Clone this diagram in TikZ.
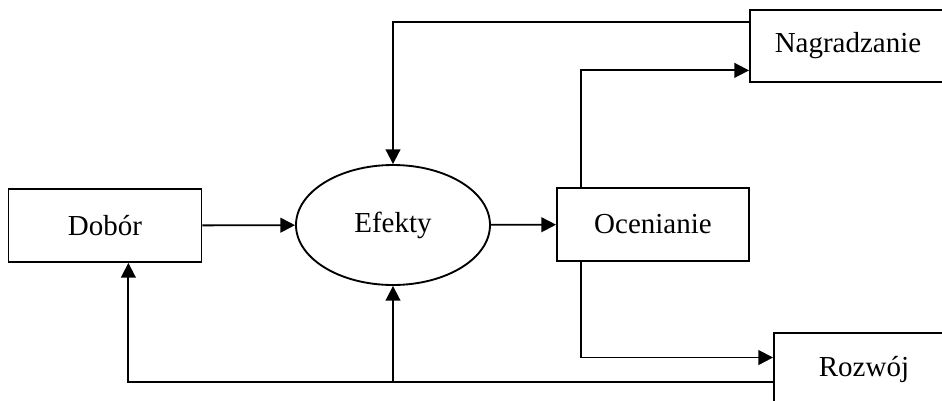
\documentclass[tikz,border=0pt]{standalone}
\usepackage{fontspec}
\setmainfont{Liberation Serif}
\usetikzlibrary{arrows.meta,shapes.geometric,calc}

\tikzset{every picture/.style={line width=1.4pt}}
\tikzset{
  box/.style={draw, rectangle, inner sep=0pt, minimum height=54.75pt, font=\fontsize{21.75}{26}\selectfont},
  oval/.style={draw, ellipse, inner sep=0pt, minimum width=145.5pt, minimum height=90pt, font=\fontsize{21.75}{26}\selectfont},
  arr/.style={-{Triangle[length=11pt,width=11pt]}}
}

\begin{document}
\begin{tikzpicture}[x=0.75pt,y=0.75pt,yscale=-1,xscale=1]
	\useasboundingbox (0,0) rectangle (942,400);

	% Boxes
	\node (dobor) [box, minimum width=144.75pt] at (105,225.5) {Dobór};
	\node (efekty) [oval] at (393,225) {\raisebox{-3pt}{Efekty}};
	\node (ocen) [box, minimum width=144pt] at (653,224.5) {Ocenianie};
	\node (nagr) [box, minimum width=147pt, minimum height=54pt] at (848,46) {Nagradzanie};
	\node (rozw) [box, minimum width=135pt] at (864,369.5) {Rozwój};

	% Straight Lines
	\draw [arr] (dobor) -- (efekty);
	\draw [arr] (efekty) -- (ocen);

	% Nagradzanie -> Efekty
	\draw [arr] ($(nagr.north west)!0.17!(nagr.south west)$) -| (efekty.north);

	% Ocenianie -> Nagradzanie, Rozwoj
	\draw [arr] ($(ocen.north west)!0.13!(ocen.north east)$) |- ($(nagr.north west)!0.83!(nagr.south west)$);
	\draw [arr] ($(ocen.south west)!0.13!(ocen.south east)$) |- ($(rozw.north west)!0.34!(rozw.south west)$);

	% Rozwoj -> Dobor, Efekty
	\coordinate (back) at ($(rozw.north west)!0.67!(rozw.south west)$);
	\draw [arr] (back) -| ($(dobor.south west)!0.62!(dobor.south east)$);
	\draw [arr] (efekty.south |- back) -- (efekty.south);

\end{tikzpicture}
\end{document}
